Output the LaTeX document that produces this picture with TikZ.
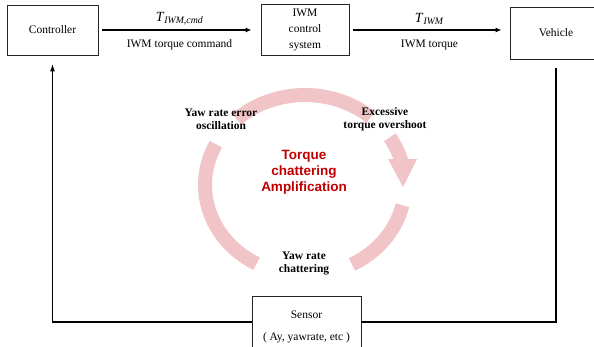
\documentclass[tikz,border=0pt]{standalone}
\usepackage{fontspec}
\setmainfont{Liberation Serif}
\newfontfamily\ampfont{Liberation Sans}
\usetikzlibrary{arrows.meta}
\definecolor{ringpink}{RGB}{241,196,200}
\definecolor{ampred}{RGB}{192,0,0}
\tikzset{
	blk/.style={draw=black!85, line width=0.9pt, align=center, font=\fontsize{11.5}{16}\selectfont},
	sig/.style={line width=1.3pt, -{Latex[length=6pt,width=5pt]}},
	fb/.style={line width=1.8pt},
	ring/.style={ringpink, line width=14pt},
	cyc/.style={align=center, font=\fontsize{11.5}{13}\selectfont\bfseries},
	lbl/.style={font=\fontsize{11.5}{14}\selectfont},
}
\begin{document}
\begin{tikzpicture}[x=1pt,y=1pt]
			\useasboundingbox (0,0) rectangle (594,-346);
			\clip (0,0) rectangle (594,-346);
			
			\node	(ctrl) at (52.5,-30) [blk, minimum width=91pt, minimum height=50pt] {Controller};
			\node	(iwm) at (305,-30) [blk, minimum width=88pt, minimum height=51pt] {IWM\\control\\system};
			\node	(veh) at (556,-33) [blk, minimum width=92pt, minimum height=52pt] {Vehicle};
			\node	(sensor) at (306.5,-327) [blk, minimum width=109pt, minimum height=62pt] {Sensor\\[6pt]( Ay, yawrate, etc )};
			
			\draw[sig, shorten <=4pt, shorten >=9pt] (ctrl.east) -- (ctrl.east -| iwm.west)
				node[midway, above=1pt, lbl] {\fontsize{14}{14}\selectfont\textit{T}\textsubscript{\textit{IWM,cmd}}}
				node[midway, below=6pt, lbl] {IWM torque command};
			\draw[sig, shorten <=4pt, shorten >=8pt] (iwm.east) -- (iwm.east -| veh.west)
				node[midway, above=1pt, lbl] {\fontsize{14}{14}\selectfont\textit{T}\textsubscript{\textit{IWM}}}
				node[midway, below=6pt, lbl] {IWM torque};
			
			\draw[fb, shorten <=9pt] (veh.south) |- ([yshift=5pt]sensor.east);
			\draw[fb, -{Latex[length=8pt,width=5pt]}, shorten >=8pt] ([yshift=5pt]sensor.west) -| (ctrl.south);
			
			% chattering loop
			\coordinate (ctr) at (305,-185);
			\draw[ring] (ctr) ++(133:100 and 90) arc[start angle=133, end angle=49, x radius=100, y radius=90];
			\draw[ring] (ctr) ++(32:100 and 90) arc[start angle=32, end angle=12, x radius=100, y radius=90];
			\fill[ringpink] (388,-159) -- (417,-159) -- (403,-187) -- cycle;
			\draw[ring] (ctr) ++(-13:100 and 90) arc[start angle=-13, end angle=-62, x radius=100, y radius=90];
			\draw[ring] (ctr) ++(153:100 and 90) arc[start angle=153, end angle=241, x radius=100, y radius=90];
			
			\node	(yawerr) at (221,-119) [cyc] {Yaw rate error\\oscillation};
			\node	(over) at (385,-119) [cyc] {Excessive\\torque overshoot};
			\node	(yawch) at (304,-263) [cyc] {Yaw rate\\chattering};
			\node	(amp) at (304,-172) [align=center, text=ampred, font=\ampfont\bfseries\fontsize{13.5}{16}\selectfont] {Torque\\chattering\\Amplification};
		\end{tikzpicture}
\end{document}
